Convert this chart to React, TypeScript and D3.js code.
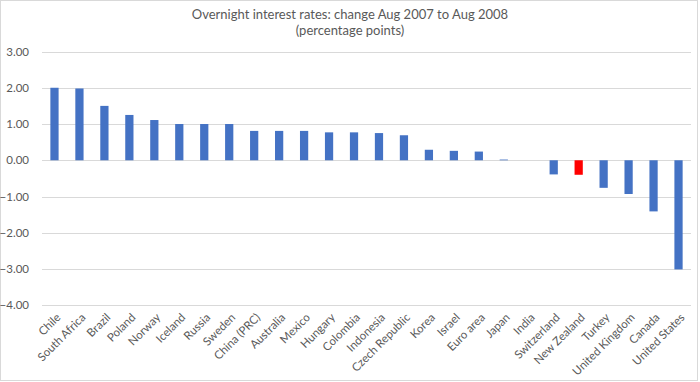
import React from "react";
import * as d3 from "d3";

const countries = [
  "Chile", "South Africa", "Brazil", "Poland", "Norway", "Iceland", "Russia", "Sweden",
  "China (PRC)", "Australia", "Mexico", "Hungary", "Colombia", "Indonesia", "Czech Republic",
  "Korea", "Israel", "Euro area", "Japan", "India", "Switzerland", "New Zealand", "Turkey",
  "United Kingdom", "Canada", "United States",
];
const changes = [
  2.0, 1.98, 1.5, 1.25, 1.11, 1.0, 1.0, 1.0,
  0.81, 0.81, 0.81, 0.77, 0.77, 0.75, 0.69,
  0.29, 0.26, 0.24, 0.02, 0.0, -0.39, -0.4, -0.76,
  -0.93, -1.41, -3.01,
];
const highlighted = ["New Zealand"];
const yTicks = [3, 2, 1, 0, -1, -2, -3, -4];
const titleLines = ["Overnight interest rates: change Aug 2007 to Aug 2008", "(percentage points)"];

const W = 700;
const H = 382;
const plot = { left: 42, right: 691, top: 51.5, bottom: 305.3 };
const FONT = "Lato, 'Open Sans', sans-serif";
const TEXT = "#595959";

export default function App() {
  const x = d3.scaleBand<string>().domain(countries).range([plot.left, plot.right]).paddingInner(0.67).paddingOuter(0.335);
  const y = d3.scaleLinear().domain([-4, 3]).range([plot.bottom, plot.top]);
  const bw = x.bandwidth();

  return (
    <svg width={W} height={H} style={{ position: "absolute", left: 0, top: 0, background: "#fff" }}>
      <rect x={0.5} y={0.5} width={W - 3} height={H - 2} fill="#fff" stroke="#d9d9d9" />
      {titleLines.map((t, i) => (
        <text key={i} x={350} y={19 + i * 16} textAnchor="middle" fontFamily={FONT} fontSize={13} fill={TEXT}>
          {t}
        </text>
      ))}
      {yTicks.map((t) => (
        <g key={t}>
          <line x1={plot.left} x2={plot.right} y1={Math.round(y(t)) + 0.5} y2={Math.round(y(t)) + 0.5} stroke="#d9d9d9" strokeWidth={1} />
          <text x={29} y={y(t)} dy="0.35em" textAnchor="end" fontFamily={FONT} fontSize={11.5} fill={TEXT}>
            {d3.format(".2f")(t)}
          </text>
        </g>
      ))}
      {countries.map((c, i) => {
        const v = changes[i];
        const y0 = y(0);
        const yv = y(v);
        return (
          <rect
            key={c}
            x={x(c)}
            y={Math.min(y0, yv)}
            width={bw}
            height={Math.abs(yv - y0)}
            fill={highlighted.includes(c) ? "#FF0000" : "#4472C4"}
          />
        );
      })}
      {countries.map((c) => {
        const cx = (x(c) as number) + bw / 2;
        return (
          <text
            key={c}
            transform={`translate(${cx + 4},${plot.bottom + 10}) rotate(-45)`}
            textAnchor="end"
            dy="0.35em"
            fontFamily={FONT}
            fontSize={11.5}
            fill={TEXT}
          >
            {c}
          </text>
        );
      })}
    </svg>
  );
}
